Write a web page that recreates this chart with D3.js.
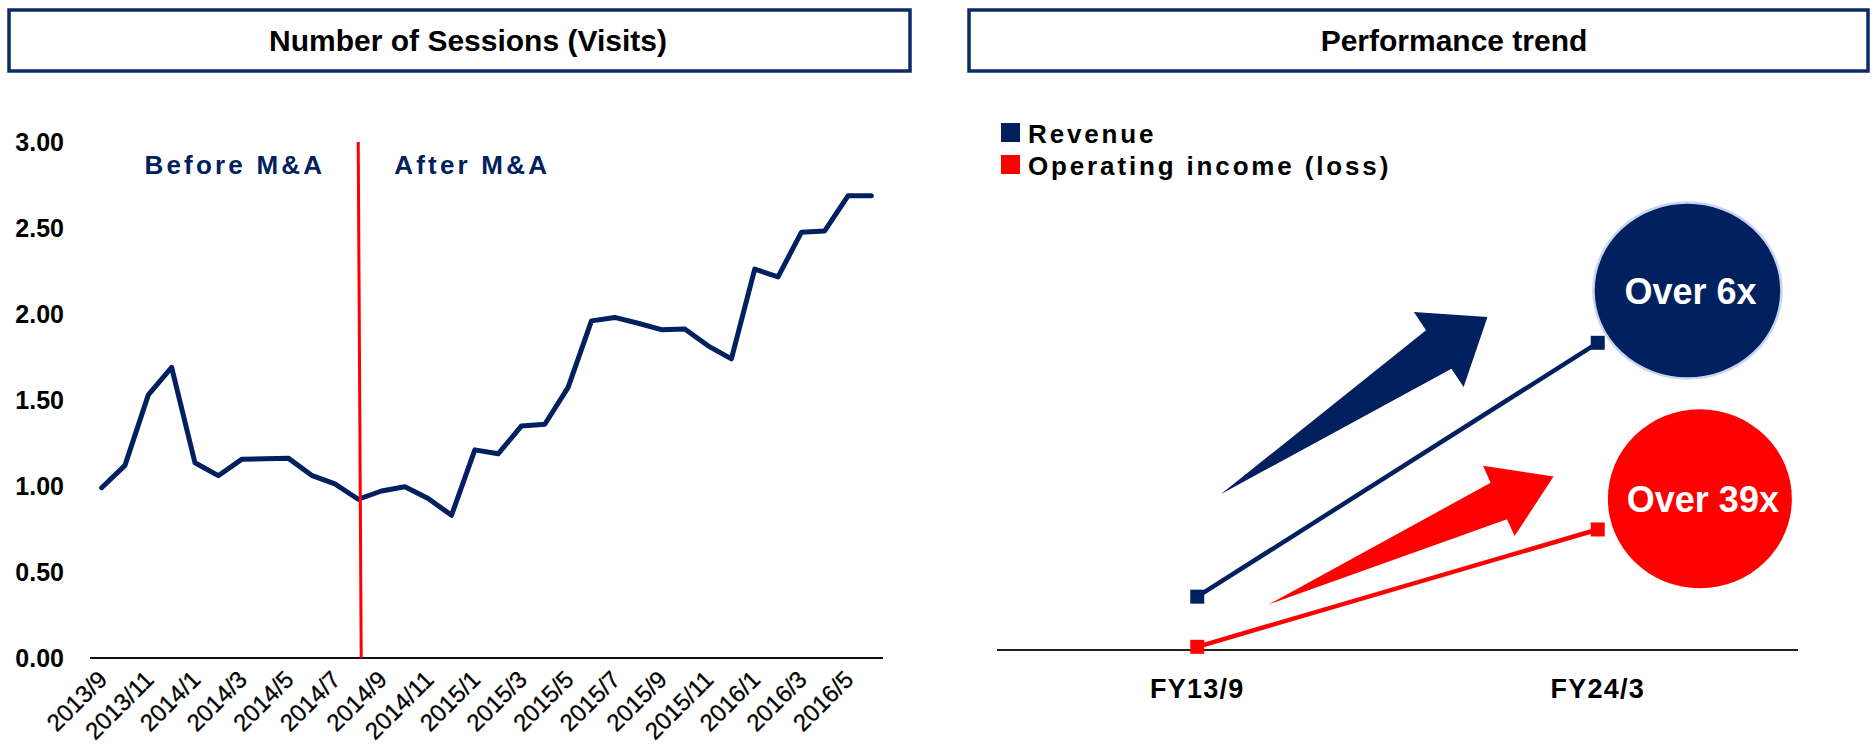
<!DOCTYPE html>
<html><head><meta charset="utf-8">
<script src="https://cdn.jsdelivr.net/npm/d3@7"></script>
<style>
body{margin:0;background:#fff;}
svg{display:block;}
text{font-family:"Liberation Sans",Arial,sans-serif;}
</style>
</head><body>
<svg id="c" width="1873" height="746"></svg>
<script>
// ---------- DATA ----------
const months = ["2013/9","2013/10","2013/11","2013/12","2014/1","2014/2","2014/3","2014/4","2014/5","2014/6","2014/7","2014/8",
  "2014/9","2014/10","2014/11","2014/12","2015/1","2015/2","2015/3","2015/4","2015/5","2015/6","2015/7","2015/8",
  "2015/9","2015/10","2015/11","2015/12","2016/1","2016/2","2016/3","2016/4","2016/5","2016/6"];
const sessions = [0.99,1.12,1.53,1.69,1.135,1.06,1.155,1.158,1.162,1.062,1.012,0.923,
  0.971,0.996,0.927,0.83,1.21,1.187,1.349,1.359,1.573,1.96,1.98,1.946,
  1.909,1.913,1.815,1.739,2.261,2.216,2.475,2.483,2.687,2.687];
const tickLabels = ["2013/9","2013/11","2014/1","2014/3","2014/5","2014/7","2014/9","2014/11","2015/1","2015/3",
  "2015/5","2015/7","2015/9","2015/11","2016/1","2016/3","2016/5"];
const yTicks = [0,0.5,1,1.5,2,2.5,3];
const maMonth = "2014/8";
const periodLabels = ["Before M&A","After M&A"];
const leftTitle = "Number of Sessions (Visits)";

const fiscalYears = ["FY13/9","FY24/3"];
const revenue = [1.0, 5.76];
const operatingIncome = [0.06, 2.26];
const seriesNames = ["Revenue","Operating income (loss)"];
const growthLabels = ["Over 6x","Over 39x"];
const rightTitle = "Performance trend";

// ---------- STYLE / LAYOUT ----------
const NAVY = "#002060", RED = "#ff0000", BOX = "#0c2a66";
const svg = d3.select("#c");

// title boxes
[[9,10,901,61,leftTitle,468],[969,10,899,61,rightTitle,1454]].forEach(([bx,by,bw,bh,t,tx])=>{
  svg.append("rect").attr("x",bx).attr("y",by).attr("width",bw).attr("height",bh)
    .attr("fill","#fff").attr("stroke",BOX).attr("stroke-width",3.5);
  svg.append("text").attr("x",tx).attr("y",by+bh/2).attr("dy","0.35em")
    .attr("text-anchor","middle").attr("font-size",30).attr("font-weight","bold").attr("fill","#000").text(t);
});

// ---------- LEFT CHART ----------
const x = d3.scalePoint().domain(months).range([90,883]).padding(0.5);
const y = d3.scaleLinear().domain([0,3]).range([658,142]);

const gL = svg.append("g");
gL.selectAll(".yt").data(yTicks).join("text")
  .attr("x",64).attr("y",d=>y(d)).attr("dy","0.35em").attr("text-anchor","end")
  .attr("font-size",25).attr("font-weight","bold").attr("fill","#000")
  .text(d3.format(".2f"));
gL.append("line").attr("x1",x.range()[0]).attr("x2",x.range()[1])
  .attr("y1",y(0)).attr("y2",y(0)).attr("stroke","#111").attr("stroke-width",2);
gL.selectAll(".xt").data(tickLabels).join("text")
  .attr("transform",d=>`translate(${x(d)+1},${y(0)+17}) rotate(-45)`)
  .attr("text-anchor","end").attr("dy","0.35em")
  .attr("font-size",24).attr("fill","#000").attr("stroke","#000").attr("stroke-width",0.3).text(d=>d);
gL.append("path").datum(sessions)
  .attr("d",d3.line().x((d,i)=>x(months[i])).y(d=>y(d)))
  .attr("fill","none").attr("stroke",NAVY).attr("stroke-width",5)
  .attr("stroke-linejoin","round").attr("stroke-linecap","round");
gL.append("line").attr("x1",x(maMonth)).attr("x2",x(maMonth)+3)
  .attr("y1",y(3)).attr("y2",y(0)).attr("stroke",RED).attr("stroke-width",3);
gL.append("text").attr("x",x(maMonth)-33).attr("y",174).attr("text-anchor","end")
  .attr("font-size",26).attr("font-weight","bold").attr("letter-spacing",3.2).attr("fill",NAVY).text(periodLabels[0]);
gL.append("text").attr("x",x(maMonth)+36).attr("y",174).attr("text-anchor","start")
  .attr("font-size",26).attr("font-weight","bold").attr("letter-spacing",3.2).attr("fill",NAVY).text(periodLabels[1]);

// ---------- RIGHT CHART ----------
const xR = d3.scaleBand().domain(fiscalYears).range([997,1798]);
const xc = d=>xR(d)+xR.bandwidth()/2;
const xLin = d3.scaleLinear().domain([0,fiscalYears.length]).range(xR.range());
const yR = d3.scaleLinear().domain([0,6]).range([650,330]);
const gR = svg.append("g");

const legendColors = [NAVY, RED];
seriesNames.forEach((s,i)=>{
  gR.append("rect").attr("x",1001).attr("y",123+i*32).attr("width",19).attr("height",19).attr("fill",legendColors[i]);
  gR.append("text").attr("x",1028).attr("y",142.5+i*32).attr("font-size",26).attr("font-weight","bold")
    .attr("letter-spacing",2.85).attr("fill","#000").text(s);
});

const arrows = [
  {tail:[0.5586,2.92], base:[1.103,5.635], shaftW:46, headW:90, headLen:58.5, color:NAVY},
  {tail:[0.679,0.857], base:[1.253,2.794], shaftW:40, headW:77, headLen:60, color:RED}
];
arrows.forEach(a=>{
  const T=[xLin(a.tail[0]),yR(a.tail[1])], B=[xLin(a.base[0]),yR(a.base[1])];
  const L=Math.hypot(B[0]-T[0],B[1]-T[1]); const d=[(B[0]-T[0])/L,(B[1]-T[1])/L]; const n=[-d[1],d[0]];
  const p=(k,m)=>[B[0]+n[0]*k+d[0]*m, B[1]+n[1]*k+d[1]*m];
  const pts=[T,p(a.shaftW/2,0),p(a.headW/2,0),p(0,a.headLen),p(-a.headW/2,0),p(-a.shaftW/2,0)];
  gR.append("path").attr("d","M"+pts.map(q=>q.join(",")).join("L")+"Z").attr("fill",a.color);
});

const bubbles = [
  {cx:1.724, cy:6.74, rx:94, ry:88, fill:NAVY, stroke:"#c6d6f0"},
  {cx:1.755, cy:2.835, rx:92, ry:89.5, fill:RED, stroke:"none"}
];
bubbles.forEach((b,i)=>{
  gR.append("ellipse").attr("cx",xLin(b.cx)).attr("cy",yR(b.cy)).attr("rx",b.rx).attr("ry",b.ry)
    .attr("fill",b.fill).attr("stroke",b.stroke).attr("stroke-width",2.5);
  gR.append("text").attr("x",xLin(b.cx)+3).attr("y",yR(b.cy)+1).attr("dy","0.35em").attr("text-anchor","middle")
    .attr("font-size",36).attr("font-weight","bold").attr("fill","#fff").text(growthLabels[i]);
});

gR.append("line").attr("x1",xR.range()[0]).attr("x2",xR.range()[1]).attr("y1",yR(0)).attr("y2",yR(0))
  .attr("stroke","#222").attr("stroke-width",2);

[[revenue,NAVY],[operatingIncome,RED]].forEach(([vals,col])=>{
  gR.append("path").datum(vals).attr("d",d3.line().x((d,i)=>xc(fiscalYears[i])).y(d=>yR(d)))
    .attr("fill","none").attr("stroke",col).attr("stroke-width",4.5);
  gR.selectAll(null).data(vals).join("rect")
    .attr("x",(d,i)=>xc(fiscalYears[i])-7).attr("y",d=>yR(d)-7).attr("width",14).attr("height",14).attr("fill",col);
});

gR.selectAll(".fy").data(fiscalYears).join("text")
  .attr("x",d=>xc(d)).attr("y",689).attr("dy","0.35em").attr("text-anchor","middle")
  .attr("font-size",27).attr("font-weight","bold").attr("letter-spacing",1.2).attr("fill","#000").text(d=>d);
</script>
</body></html>
